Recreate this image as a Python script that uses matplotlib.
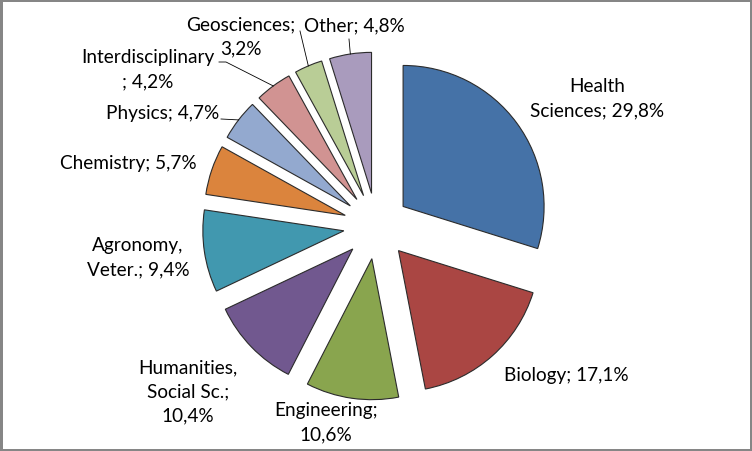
import matplotlib
matplotlib.use("Agg")
import matplotlib.pyplot as plt
import numpy as np

# datos del gráfico (porcentaje por área)
areas = ["Health\nSciences", "Biology", "Engineering", "Humanities,\nSocial Sc.",
         "Agronomy,\nVeter.", "Chemistry", "Physics", "Interdisciplinary\n",
         "Geosciences", "Other"]
porcentajes = [29.8, 17.1, 10.6, 10.4, 9.4, 5.7, 4.7, 4.2, 3.2, 4.8]
colores = ["#4572A7", "#AA4643", "#89A54E", "#71588F", "#4198AF",
           "#DB843D", "#93A9CF", "#D19392", "#B9CD96", "#A99BBD"]

# separador entre nombre y valor (como en la hoja original)
sep = [" ", " ", "\n", "\n", " ", " ", " ", "", "\n", " "]
etiquetas = [a + ";" + s + f"{p:.1f}".replace(".", ",") + "%"
             for a, s, p in zip(areas, sep, porcentajes)]
etiquetas[7] = "Interdisciplinary\n; " + f"{porcentajes[7]:.1f}".replace(".", ",") + "%"

# posiciones de las etiquetas en pixeles (x, y desde arriba)
pos_etiquetas = [(597, 99), (566, 376), (326, 423), (188, 392), (138, 258),
                 (128, 164), (163, 113), (148, 70), (241, 37), (354, 26)]

W, H = 752, 452
cx, cy, r = 376.5, H - 227, 141
sep_px = 33

fig = plt.figure(figsize=(W / 100, H / 100), dpi=100)
ax = fig.add_axes([0, 0, 1, 1])
wedges, _ = ax.pie(porcentajes, colors=colores, startangle=90, counterclock=False,
                   radius=r, center=(cx, cy), explode=[sep_px] * len(porcentajes),
                   wedgeprops=dict(edgecolor="#2b2b2b", linewidth=0.8))
ax.set_xlim(0, W)
ax.set_ylim(0, H)
ax.set_aspect("equal")
ax.axis("off")

plt.rcParams["font.family"] = ["Lato", "DejaVu Sans"]
for txt, (x, y) in zip(etiquetas, pos_etiquetas):
    ax.text(x, H - y, txt, ha="center", va="center", fontsize=13.7,
            color="black", linespacing=1.5)

# líneas guía para las porciones pequeñas
def punto_borde(w):
    ang = np.deg2rad((w.theta1 + w.theta2) / 2)
    return w.center[0] + r * np.cos(ang), w.center[1] + r * np.sin(ang)

guias = {6: [(221, 120)], 7: [(219, 63), (226, 63)], 8: [(300, 32)], 9: [(349, 40)]}
for i, pts in guias.items():
    bx, by = punto_borde(wedges[i])
    xs = [p[0] for p in pts] + [bx]
    ys = [H - p[1] for p in pts] + [by]
    ax.plot(xs, ys, color="black", linewidth=0.6)

fig.patch.set_edgecolor("#868686")
fig.patch.set_linewidth(3.5)
fig.savefig("out.png", dpi=100, edgecolor=fig.get_edgecolor())
